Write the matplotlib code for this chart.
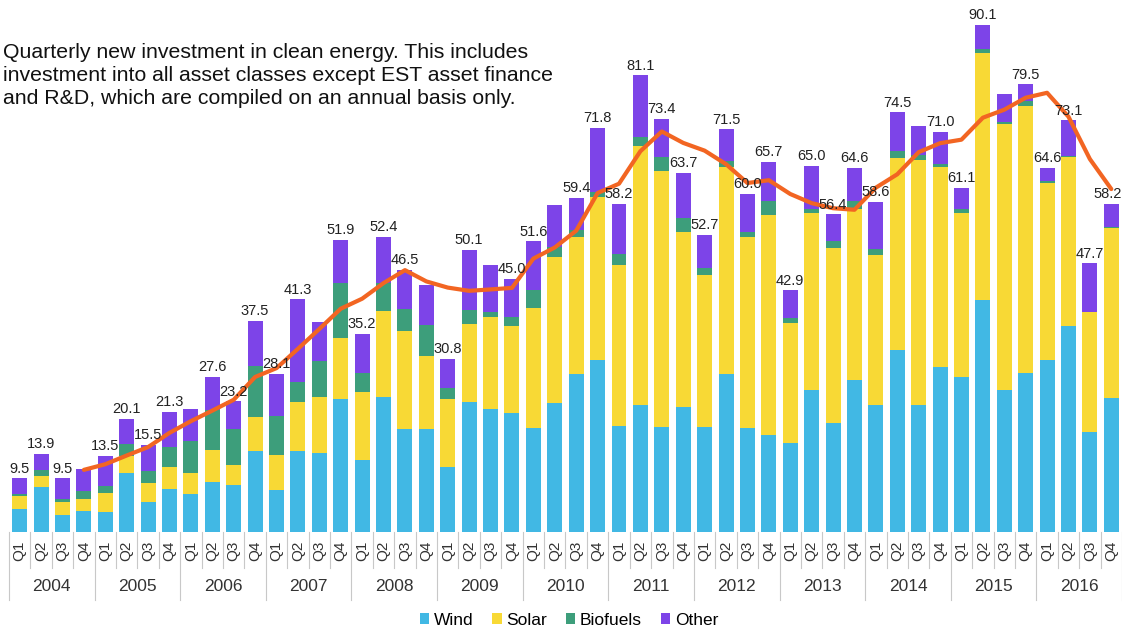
import matplotlib
matplotlib.use("Agg")
import matplotlib.pyplot as plt
import numpy as np

plt.rcParams['font.family'] = ['Liberation Sans', 'DejaVu Sans']

years = [str(y) for y in range(2004, 2017)]
quarters = ["Q1", "Q2", "Q3", "Q4"]

wind = [4.0, 7.9, 3.0, 3.7,
        3.5, 10.5, 5.4, 7.6,
        6.7, 8.8, 8.3, 14.3,
        7.5, 14.3, 14.0, 23.6,
        12.8, 23.9, 18.2, 18.2,
        11.6, 23.0, 21.8, 21.1,
        18.5, 22.9, 28.1, 30.6,
        18.9, 22.5, 18.6, 22.2,
        18.6, 28.1, 18.5, 17.3,
        15.8, 25.2, 19.4, 26.9,
        22.5, 32.4, 22.6, 29.3,
        27.6, 41.2, 25.2, 28.3,
        30.5, 36.6, 17.7, 23.8]
solar = [2.3, 2.1, 2.3, 2.1,
         3.4, 3.0, 3.3, 4.0,
         3.8, 5.8, 3.6, 6.2,
         6.2, 8.7, 10.0, 10.9,
         12.1, 15.4, 17.5, 13.1,
         12.0, 13.9, 16.4, 15.5,
         21.2, 26.0, 24.2, 28.9,
         28.5, 46.0, 45.5, 31.0,
         27.0, 36.8, 33.8, 39.0,
         21.3, 31.4, 31.1, 30.5,
         26.7, 34.0, 43.5, 35.6,
         29.1, 43.9, 47.2, 47.3,
         31.4, 30.0, 21.3, 30.2]
biofuels = [0.5, 1.0, 0.6, 1.5,
            1.3, 2.2, 2.1, 3.5,
            5.7, 7.1, 6.3, 9.0,
            6.9, 3.7, 6.4, 9.7,
            3.4, 5.0, 3.9, 5.4,
            1.9, 2.5, 0.9, 1.6,
            3.2, 1.7, 1.3, 0.9,
            1.9, 1.6, 2.5, 2.6,
            1.3, 0.9, 1.0, 2.5,
            0.9, 0.8, 1.1, 1.4,
            1.1, 1.2, 0.9, 0.5,
            0.7, 0.7, 0.5, 1.0,
            0.4, 0.2, 0.1, 0.2]
other = [2.7, 2.9, 3.6, 3.9,
         5.3, 4.4, 4.7, 6.2,
         5.6, 5.9, 5.0, 8.0,
         7.5, 14.6, 6.9, 7.7,
         6.9, 8.1, 6.9, 7.2,
         5.3, 10.7, 8.4, 6.8,
         8.7, 7.4, 5.8, 11.4,
         8.9, 11.0, 6.8, 7.9,
         5.8, 5.7, 6.7, 6.9,
         4.9, 7.6, 4.8, 5.8,
         8.3, 6.9, 5.1, 5.6,
         3.7, 4.3, 4.9, 2.9,
         2.3, 6.3, 8.6, 4.0]

# Total labels shown on the chart (None where no label is displayed)
total_labels = ["9.5", "13.9", "9.5", None,
                "13.5", "20.1", "15.5", "21.3",
                None, "27.6", "23.2", "37.5",
                "28.1", "41.3", None, "51.9",
                "35.2", "52.4", "46.5", None,
                "30.8", "50.1", None, "45.0",
                "51.6", None, "59.4", "71.8",
                "58.2", "81.1", "73.4", "63.7",
                "52.7", "71.5", "60.0", "65.7",
                "42.9", "65.0", "56.4", "64.6",
                "58.6", "74.5", None, "71.0",
                "61.1", "90.1", None, "79.5",
                "64.6", "73.1", "47.7", "58.2"]

series_names = ["Wind", "Solar", "Biofuels", "Other"]
colors = ["#41B8E4", "#F8D935", "#3D9E7B", "#7D44E8"]
line_color = "#F26522"

W = np.array(wind); S = np.array(solar); B = np.array(biofuels); O = np.array(other)
totals = W + S + B + O
n = len(totals)
x = np.arange(n)

fig = plt.figure(figsize=(11.22, 6.31), dpi=100)
ax = fig.add_axes([0.008, 0.157, 0.992, 0.8387])
ax.set_xlim(-0.5, n - 0.5)
ax.set_ylim(0, 94)

bottom = np.zeros(n)
for vals, name, c in zip([W, S, B, O], series_names, colors):
    ax.bar(x, vals, width=0.7, bottom=bottom, color=c, label=name, zorder=2)
    bottom = bottom + vals

# 4-quarter trailing moving average
ma = np.convolve(totals, np.ones(4) / 4, mode="valid")
ax.plot(x[3:], ma, color=line_color, lw=3, zorder=4, solid_joinstyle="round", solid_capstyle="round")

for xi, t, lab in zip(x, totals, total_labels):
    if lab is not None:
        if xi == n - 1:
            ax.text(xi + 0.5, t + 0.5, lab, ha="right", va="bottom", fontsize=10.5,
                    color="#222222", zorder=5, clip_on=False)
        else:
            ax.text(xi, t + 0.5, lab, ha="center", va="bottom", fontsize=10.5,
                    color="#222222", zorder=5, clip_on=False)

for s in ax.spines.values():
    s.set_visible(False)
ax.set_xticks([]); ax.set_yticks([])

trans = ax.get_xaxis_transform()
px = 1 / (0.8387 * 631)  # axes fraction per pixel
# quarter / year separators
for i in range(n + 1):
    is_year = (i % 4 == 0)
    y_end = -68 * px if is_year else -36 * px
    ax.plot([i - 0.5, i - 0.5], [0, y_end], color="#C8C8C8", lw=0.8, transform=trans, clip_on=False)
for i in range(n):
    ax.text(i, -19 * px, quarters[i % 4], rotation=90, ha="center", va="center",
            fontsize=11, color="#333333", transform=trans)
for k, yr in enumerate(years):
    ax.text(4 * k + 1.5, -55 * px, yr, ha="center", va="center", fontsize=12.5,
            color="#333333", transform=trans)

fig.text(0.003, 0.932, "Quarterly new investment in clean energy. This includes\n"
         "investment into all asset classes except EST asset finance\n"
         "and R&D, which are compiled on an annual basis only.",
         ha="left", va="top", fontsize=15.3, color="#111111", linespacing=1.28)

leg = fig.legend(loc="center", bbox_to_anchor=(0.507, 0.017), ncol=4, frameon=False,
                 fontsize=12.5, handlelength=0.55, handleheight=0.55, handletextpad=0.25,
                 columnspacing=1.1)

fig.savefig("out.png", dpi=100)
